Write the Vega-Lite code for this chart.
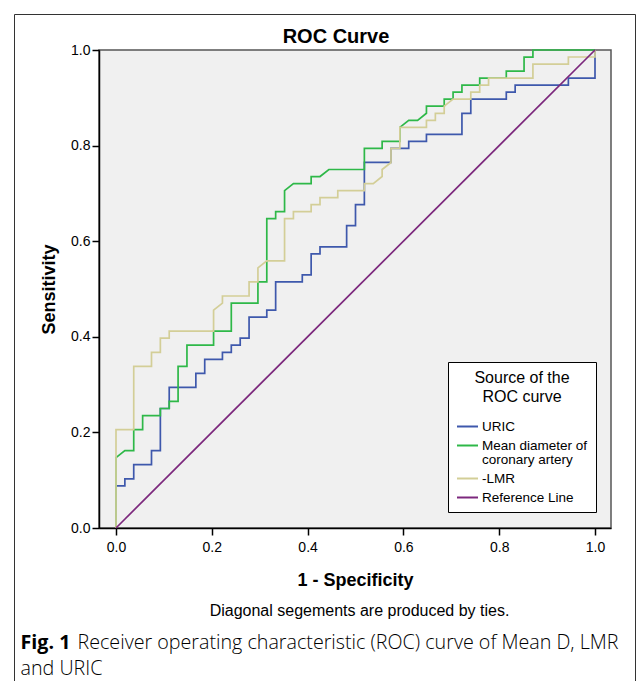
{
  "$schema": "https://vega.github.io/schema/vega-lite/v6.json",
  "autosize": "none",
  "padding": {"left": 99, "top": 50, "right": 26, "bottom": 153},
  "width": 512,
  "height": 478,
  "background": "white",
  "config": {
    "font": "Liberation Sans",
    "view": {"fill": "#F0F0F0", "stroke": "#555555", "strokeWidth": 1.5}
  },
  "title": {
    "text": "ROC Curve", "anchor": "middle", "frame": "group",
    "font": "Liberation Sans", "fontSize": 20, "fontWeight": "bold", "color": "black",
    "offset": -33, "dx": -19
  },
  "data": {"values": [
    {"c":"URIC","i":0,"x":0,"y":0},{"c":"URIC","i":1,"x":0,"y":0.0882},{"c":"URIC","i":2,"x":0.0185,"y":0.0882},{"c":"URIC","i":3,"x":0.0185,"y":0.1029},{"c":"URIC","i":4,"x":0.037,"y":0.1029},{"c":"URIC","i":5,"x":0.037,"y":0.1324},{"c":"URIC","i":6,"x":0.0741,"y":0.1324},{"c":"URIC","i":7,"x":0.0741,"y":0.1618},{"c":"URIC","i":8,"x":0.0926,"y":0.1618},{"c":"URIC","i":9,"x":0.0926,"y":0.25},{"c":"URIC","i":10,"x":0.1111,"y":0.25},{"c":"URIC","i":11,"x":0.1111,"y":0.2941},{"c":"URIC","i":12,"x":0.1667,"y":0.2941},{"c":"URIC","i":13,"x":0.1667,"y":0.3235},{"c":"URIC","i":14,"x":0.1852,"y":0.3235},{"c":"URIC","i":15,"x":0.1852,"y":0.3529},{"c":"URIC","i":16,"x":0.2222,"y":0.3529},{"c":"URIC","i":17,"x":0.2222,"y":0.3676},{"c":"URIC","i":18,"x":0.2407,"y":0.3676},{"c":"URIC","i":19,"x":0.2407,"y":0.3824},{"c":"URIC","i":20,"x":0.2593,"y":0.3824},{"c":"URIC","i":21,"x":0.2593,"y":0.3971},{"c":"URIC","i":22,"x":0.2778,"y":0.3971},{"c":"URIC","i":23,"x":0.2778,"y":0.4412},{"c":"URIC","i":24,"x":0.3148,"y":0.4412},{"c":"URIC","i":25,"x":0.3148,"y":0.4559},{"c":"URIC","i":26,"x":0.3333,"y":0.4559},{"c":"URIC","i":27,"x":0.3333,"y":0.5147},{"c":"URIC","i":28,"x":0.3889,"y":0.5147},{"c":"URIC","i":29,"x":0.3889,"y":0.5294},{"c":"URIC","i":30,"x":0.4074,"y":0.5294},{"c":"URIC","i":31,"x":0.4074,"y":0.5735},{"c":"URIC","i":32,"x":0.4259,"y":0.5735},{"c":"URIC","i":33,"x":0.4259,"y":0.5882},{"c":"URIC","i":34,"x":0.4815,"y":0.5882},{"c":"URIC","i":35,"x":0.4815,"y":0.6324},{"c":"URIC","i":36,"x":0.5,"y":0.6324},{"c":"URIC","i":37,"x":0.5,"y":0.6765},{"c":"URIC","i":38,"x":0.5185,"y":0.6765},{"c":"URIC","i":39,"x":0.5185,"y":0.7647},{"c":"URIC","i":40,"x":0.5741,"y":0.7647},{"c":"URIC","i":41,"x":0.5741,"y":0.7941},{"c":"URIC","i":42,"x":0.6111,"y":0.7941},{"c":"URIC","i":43,"x":0.6111,"y":0.8088},{"c":"URIC","i":44,"x":0.6481,"y":0.8088},{"c":"URIC","i":45,"x":0.6481,"y":0.8235},{"c":"URIC","i":46,"x":0.7222,"y":0.8235},{"c":"URIC","i":47,"x":0.7222,"y":0.8676},{"c":"URIC","i":48,"x":0.7407,"y":0.8676},{"c":"URIC","i":49,"x":0.7407,"y":0.8971},{"c":"URIC","i":50,"x":0.8148,"y":0.8971},{"c":"URIC","i":51,"x":0.8148,"y":0.9118},{"c":"URIC","i":52,"x":0.8333,"y":0.9118},{"c":"URIC","i":53,"x":0.8333,"y":0.9265},{"c":"URIC","i":54,"x":0.9444,"y":0.9265},{"c":"URIC","i":55,"x":0.9444,"y":0.9412},{"c":"URIC","i":56,"x":1,"y":0.9412},{"c":"URIC","i":57,"x":1,"y":1},
    {"c":"Mean diameter of coronary artery","i":0,"x":0,"y":0},{"c":"Mean diameter of coronary artery","i":1,"x":0,"y":0.1471},{"c":"Mean diameter of coronary artery","i":2,"x":0.0185,"y":0.1618},{"c":"Mean diameter of coronary artery","i":3,"x":0.037,"y":0.1618},{"c":"Mean diameter of coronary artery","i":4,"x":0.037,"y":0.2059},{"c":"Mean diameter of coronary artery","i":5,"x":0.0556,"y":0.2059},{"c":"Mean diameter of coronary artery","i":6,"x":0.0556,"y":0.2353},{"c":"Mean diameter of coronary artery","i":7,"x":0.0926,"y":0.2353},{"c":"Mean diameter of coronary artery","i":8,"x":0.0926,"y":0.25},{"c":"Mean diameter of coronary artery","i":9,"x":0.1111,"y":0.25},{"c":"Mean diameter of coronary artery","i":10,"x":0.1111,"y":0.2647},{"c":"Mean diameter of coronary artery","i":11,"x":0.1296,"y":0.2647},{"c":"Mean diameter of coronary artery","i":12,"x":0.1296,"y":0.3382},{"c":"Mean diameter of coronary artery","i":13,"x":0.1481,"y":0.3382},{"c":"Mean diameter of coronary artery","i":14,"x":0.1481,"y":0.3824},{"c":"Mean diameter of coronary artery","i":15,"x":0.2037,"y":0.3824},{"c":"Mean diameter of coronary artery","i":16,"x":0.2037,"y":0.4118},{"c":"Mean diameter of coronary artery","i":17,"x":0.2407,"y":0.4118},{"c":"Mean diameter of coronary artery","i":18,"x":0.2407,"y":0.4706},{"c":"Mean diameter of coronary artery","i":19,"x":0.2963,"y":0.4706},{"c":"Mean diameter of coronary artery","i":20,"x":0.2963,"y":0.5147},{"c":"Mean diameter of coronary artery","i":21,"x":0.3148,"y":0.5147},{"c":"Mean diameter of coronary artery","i":22,"x":0.3148,"y":0.6471},{"c":"Mean diameter of coronary artery","i":23,"x":0.3333,"y":0.6471},{"c":"Mean diameter of coronary artery","i":24,"x":0.3333,"y":0.6618},{"c":"Mean diameter of coronary artery","i":25,"x":0.3519,"y":0.6618},{"c":"Mean diameter of coronary artery","i":26,"x":0.3519,"y":0.7059},{"c":"Mean diameter of coronary artery","i":27,"x":0.3704,"y":0.7206},{"c":"Mean diameter of coronary artery","i":28,"x":0.4074,"y":0.7206},{"c":"Mean diameter of coronary artery","i":29,"x":0.4074,"y":0.7353},{"c":"Mean diameter of coronary artery","i":30,"x":0.4259,"y":0.7353},{"c":"Mean diameter of coronary artery","i":31,"x":0.4444,"y":0.75},{"c":"Mean diameter of coronary artery","i":32,"x":0.5185,"y":0.75},{"c":"Mean diameter of coronary artery","i":33,"x":0.5185,"y":0.7941},{"c":"Mean diameter of coronary artery","i":34,"x":0.5556,"y":0.7941},{"c":"Mean diameter of coronary artery","i":35,"x":0.5556,"y":0.8088},{"c":"Mean diameter of coronary artery","i":36,"x":0.5926,"y":0.8088},{"c":"Mean diameter of coronary artery","i":37,"x":0.5926,"y":0.8382},{"c":"Mean diameter of coronary artery","i":38,"x":0.6111,"y":0.8529},{"c":"Mean diameter of coronary artery","i":39,"x":0.6296,"y":0.8529},{"c":"Mean diameter of coronary artery","i":40,"x":0.6481,"y":0.8676},{"c":"Mean diameter of coronary artery","i":41,"x":0.6481,"y":0.8824},{"c":"Mean diameter of coronary artery","i":42,"x":0.6852,"y":0.8824},{"c":"Mean diameter of coronary artery","i":43,"x":0.6852,"y":0.8971},{"c":"Mean diameter of coronary artery","i":44,"x":0.7037,"y":0.8971},{"c":"Mean diameter of coronary artery","i":45,"x":0.7037,"y":0.9118},{"c":"Mean diameter of coronary artery","i":46,"x":0.7222,"y":0.9118},{"c":"Mean diameter of coronary artery","i":47,"x":0.7222,"y":0.9265},{"c":"Mean diameter of coronary artery","i":48,"x":0.7593,"y":0.9265},{"c":"Mean diameter of coronary artery","i":49,"x":0.7593,"y":0.9412},{"c":"Mean diameter of coronary artery","i":50,"x":0.8148,"y":0.9412},{"c":"Mean diameter of coronary artery","i":51,"x":0.8148,"y":0.9559},{"c":"Mean diameter of coronary artery","i":52,"x":0.8519,"y":0.9559},{"c":"Mean diameter of coronary artery","i":53,"x":0.8519,"y":0.9853},{"c":"Mean diameter of coronary artery","i":54,"x":0.8704,"y":0.9853},{"c":"Mean diameter of coronary artery","i":55,"x":0.8704,"y":1},{"c":"Mean diameter of coronary artery","i":56,"x":1,"y":1},
    {"c":"-LMR","i":0,"x":0,"y":0},{"c":"-LMR","i":1,"x":0,"y":0.2059},{"c":"-LMR","i":2,"x":0.037,"y":0.2059},{"c":"-LMR","i":3,"x":0.037,"y":0.3382},{"c":"-LMR","i":4,"x":0.0741,"y":0.3382},{"c":"-LMR","i":5,"x":0.0741,"y":0.3676},{"c":"-LMR","i":6,"x":0.0926,"y":0.3676},{"c":"-LMR","i":7,"x":0.0926,"y":0.3971},{"c":"-LMR","i":8,"x":0.1111,"y":0.3971},{"c":"-LMR","i":9,"x":0.1111,"y":0.4118},{"c":"-LMR","i":10,"x":0.2037,"y":0.4118},{"c":"-LMR","i":11,"x":0.2037,"y":0.4559},{"c":"-LMR","i":12,"x":0.2222,"y":0.4706},{"c":"-LMR","i":13,"x":0.2222,"y":0.4853},{"c":"-LMR","i":14,"x":0.2778,"y":0.4853},{"c":"-LMR","i":15,"x":0.2778,"y":0.5147},{"c":"-LMR","i":16,"x":0.2963,"y":0.5147},{"c":"-LMR","i":17,"x":0.2963,"y":0.5441},{"c":"-LMR","i":18,"x":0.3148,"y":0.5588},{"c":"-LMR","i":19,"x":0.3519,"y":0.5588},{"c":"-LMR","i":20,"x":0.3519,"y":0.6471},{"c":"-LMR","i":21,"x":0.3704,"y":0.6471},{"c":"-LMR","i":22,"x":0.3704,"y":0.6618},{"c":"-LMR","i":23,"x":0.4074,"y":0.6618},{"c":"-LMR","i":24,"x":0.4074,"y":0.6765},{"c":"-LMR","i":25,"x":0.4259,"y":0.6765},{"c":"-LMR","i":26,"x":0.4259,"y":0.6912},{"c":"-LMR","i":27,"x":0.463,"y":0.6912},{"c":"-LMR","i":28,"x":0.463,"y":0.7059},{"c":"-LMR","i":29,"x":0.5185,"y":0.7059},{"c":"-LMR","i":30,"x":0.5185,"y":0.7206},{"c":"-LMR","i":31,"x":0.537,"y":0.7206},{"c":"-LMR","i":32,"x":0.5556,"y":0.7353},{"c":"-LMR","i":33,"x":0.5556,"y":0.75},{"c":"-LMR","i":34,"x":0.5741,"y":0.7647},{"c":"-LMR","i":35,"x":0.5741,"y":0.7941},{"c":"-LMR","i":36,"x":0.5926,"y":0.7941},{"c":"-LMR","i":37,"x":0.5926,"y":0.8382},{"c":"-LMR","i":38,"x":0.6481,"y":0.8382},{"c":"-LMR","i":39,"x":0.6481,"y":0.8529},{"c":"-LMR","i":40,"x":0.6667,"y":0.8529},{"c":"-LMR","i":41,"x":0.6667,"y":0.8676},{"c":"-LMR","i":42,"x":0.6852,"y":0.8676},{"c":"-LMR","i":43,"x":0.6852,"y":0.8824},{"c":"-LMR","i":44,"x":0.7037,"y":0.8971},{"c":"-LMR","i":45,"x":0.7407,"y":0.8971},{"c":"-LMR","i":46,"x":0.7407,"y":0.9118},{"c":"-LMR","i":47,"x":0.7593,"y":0.9118},{"c":"-LMR","i":48,"x":0.7593,"y":0.9265},{"c":"-LMR","i":49,"x":0.7778,"y":0.9265},{"c":"-LMR","i":50,"x":0.7778,"y":0.9412},{"c":"-LMR","i":51,"x":0.8704,"y":0.9412},{"c":"-LMR","i":52,"x":0.8704,"y":0.9706},{"c":"-LMR","i":53,"x":0.9444,"y":0.9706},{"c":"-LMR","i":54,"x":0.9444,"y":0.9853},{"c":"-LMR","i":55,"x":1,"y":0.9853},{"c":"-LMR","i":56,"x":1,"y":1},
    {"c":"Reference Line","i":0,"x":0,"y":0},{"c":"Reference Line","i":1,"x":1,"y":1}
  ]},
  "encoding": {
    "color": {
      "field": "c", "type": "nominal",
      "scale": {
        "domain": ["URIC", "Mean diameter of coronary artery", "-LMR", "Reference Line"],
        "range": ["#3E58AC", "#2EB848", "#D3CE97", "#7C287D"]
      },
      "legend": {
        "orient": "none", "legendX": 349, "legendY": 312,
        "title": ["Source of the", "ROC curve"],
        "titleFont": "Liberation Sans", "titleFontSize": 16, "titleFontWeight": "normal", "titleColor": "black",
        "titleAnchor": "middle", "titleAlign": "center", "titleLineHeight": 19, "titlePadding": 10,
        "labelFont": "Liberation Sans", "labelFontSize": 13.5, "labelColor": "black", "labelLimit": 300, "labelOffset": 3,
        "labelExpr": "datum.label == 'Mean diameter of coronary artery' ? ['Mean diameter of', 'coronary artery'] : datum.label",
        "symbolType": "stroke", "symbolSize": 441, "symbolStrokeWidth": 2,
        "strokeColor": "black", "fillColor": "white", "padding": 8, "rowPadding": 1,
        "encode": {"labels": {"update": {"lineHeight": {"value": 14}}}}
      }
    },
    "order": {"field": "i", "type": "quantitative"}
  },
  "resolve": {
    "scale": {"x": "independent", "y": "independent"},
    "axis": {"x": "independent", "y": "independent"}
  },
  "layer": [
    {
      "transform": [{"filter": "datum.c == 'URIC'"}],
      "mark": {"type": "line", "strokeWidth": 1.7, "clip": false},
      "encoding": {
        "x": {
          "field": "x", "type": "quantitative",
          "scale": {"domain": [-0.0355, 1.0334], "nice": false, "zero": false},
          "axis": {
            "orient": "bottom",
            "title": "1 - Specificity", "values": [0, 0.2, 0.4, 0.6, 0.8, 1], "format": ".1f",
            "grid": false, "domain": true, "domainColor": "black", "domainWidth": 1.5,
            "ticks": true, "tickColor": "black", "tickSize": 7, "tickWidth": 1.5,
            "labelFont": "Liberation Sans", "labelFontSize": 14, "labelColor": "black", "labelPadding": 5,
            "titleFont": "Liberation Sans", "titleFontSize": 18, "titleFontWeight": "bold", "titleColor": "black", "titlePadding": 17
          }
        },
        "y": {
          "field": "y", "type": "quantitative",
          "scale": {"domain": [0, 1], "nice": false, "zero": false},
          "axis": {
            "orient": "left",
            "title": "Sensitivity", "values": [0, 0.2, 0.4, 0.6, 0.8, 1], "format": ".1f",
            "grid": false, "domain": true, "domainColor": "black", "domainWidth": 1.5,
            "ticks": true, "tickColor": "black", "tickSize": 7, "tickWidth": 1.5,
            "labelFont": "Liberation Sans", "labelFontSize": 14, "labelColor": "black", "labelPadding": 2,
            "titleFont": "Liberation Sans", "titleFontSize": 18, "titleFontWeight": "bold", "titleColor": "black", "titlePadding": 12
          }
        }
      }
    },
    {
      "transform": [{"filter": "datum.c == 'Mean diameter of coronary artery'"}],
      "mark": {"type": "line", "strokeWidth": 1.7, "clip": false},
      "encoding": {
        "x": {
          "field": "x", "type": "quantitative",
          "scale": {"domain": [-0.0355, 1.0334], "nice": false, "zero": false},
          "axis": {
            "orient": "bottom", "title": "Diagonal segements are produced by ties.",
            "labels": false, "ticks": false, "domain": false, "grid": false,
            "titleX": 260, "titleY": 82, "titleAlign": "center", "titleBaseline": "middle",
            "titleFont": "Liberation Sans", "titleFontSize": 16, "titleFontWeight": "normal", "titleColor": "black"
          }
        },
        "y": {
          "field": "y", "type": "quantitative",
          "scale": {"domain": [0, 1], "nice": false, "zero": false},
          "axis": {
            "orient": "left", "title": "and URIC",
            "labels": false, "ticks": false, "domain": false, "grid": false,
            "titleAngle": 0, "titleX": -79, "titleY": 618, "titleAlign": "left", "titleBaseline": "middle",
            "titleFont": "Open Sans", "titleFontSize": 19.7, "titleFontWeight": 300, "titleColor": "black"
          }
        }
      }
    },
    {
      "transform": [{"filter": "datum.c == '-LMR'"}],
      "mark": {"type": "line", "strokeWidth": 1.7, "clip": false},
      "encoding": {
        "x": {
          "field": "x", "type": "quantitative",
          "scale": {"domain": [-0.0355, 1.0334], "nice": false, "zero": false},
          "axis": {
            "orient": "bottom", "title": "Receiver operating characteristic (ROC) curve of Mean D, LMR",
            "labels": false, "ticks": false, "domain": false, "grid": false,
            "titleX": -22, "titleY": 114, "titleAlign": "left", "titleBaseline": "middle",
            "titleFont": "Open Sans", "titleFontSize": 19.7, "titleFontWeight": 300, "titleColor": "black"
          }
        },
        "y": {
          "field": "y", "type": "quantitative",
          "scale": {"domain": [-0.3201, 1.0753], "range": [631, -36], "nice": false, "zero": false},
          "axis": {
            "orient": "left", "offset": 85, "title": null,
            "labels": false, "ticks": false, "grid": false,
            "domain": true, "domainColor": "#333333", "domainWidth": 1
          }
        }
      }
    },
    {
      "transform": [{"filter": "datum.c == 'Reference Line'"}],
      "mark": {"type": "line", "strokeWidth": 1.7, "clip": false},
      "encoding": {
        "x": {
          "field": "x", "type": "quantitative",
          "scale": {"domain": [-0.2129, 1.0835], "range": [-85, 536], "nice": false, "zero": false},
          "axis": {
            "orient": "top", "offset": 36, "title": "Fig. 1",
            "labels": false, "ticks": false, "grid": false,
            "domain": true, "domainColor": "#333333", "domainWidth": 1,
            "titleX": -79, "titleY": 628, "titleAlign": "left", "titleBaseline": "middle", "titleAngle": 0,
            "titleFont": "Open Sans", "titleFontSize": 19.7, "titleFontWeight": "bold", "titleColor": "black"
          }
        },
        "y": {
          "field": "y", "type": "quantitative",
          "scale": {"domain": [-0.3201, 1.0753], "range": [631, -36], "nice": false, "zero": false},
          "axis": {
            "orient": "right", "offset": 24, "title": null,
            "labels": false, "ticks": false, "grid": false,
            "domain": true, "domainColor": "#333333", "domainWidth": 1
          }
        }
      }
    }
  ]
}
